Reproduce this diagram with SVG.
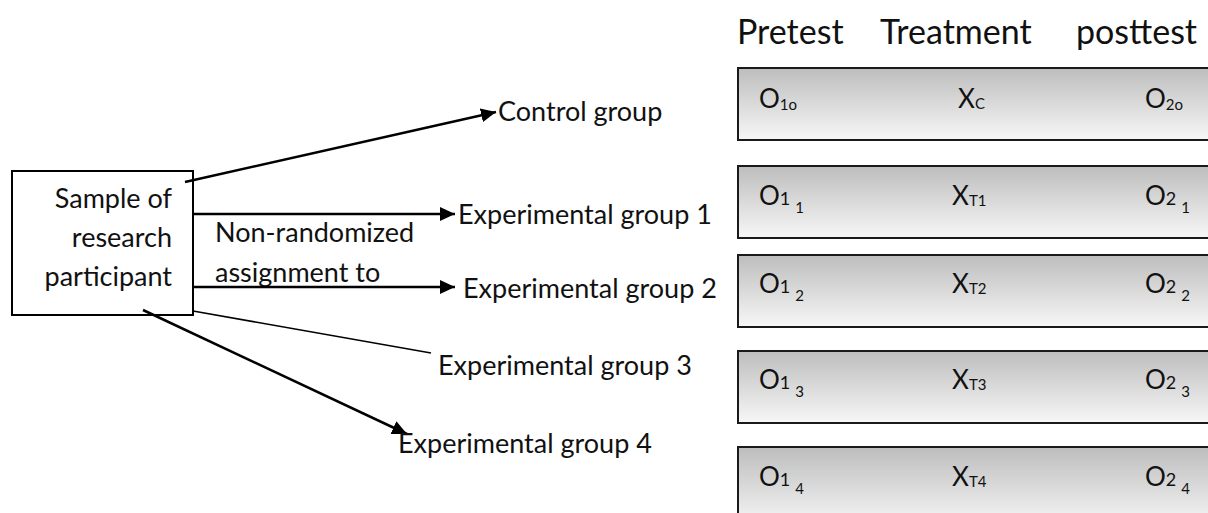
<svg xmlns="http://www.w3.org/2000/svg" width="1208" height="513" viewBox="0 0 1208 513">
<style>
text{font-family:Lato,"Liberation Sans",Arial,sans-serif;fill:#111}
.b{font-size:27px}
.h{font-size:34px}
.o{font-size:26px}
.m{font-size:18px}
.s{font-size:15px}
.row{fill:url(#g);stroke:#1a1a1a;stroke-width:2}
.ln{stroke:#000;stroke-width:2.5;fill:none}
.thin{stroke:#000;stroke-width:1.6;fill:none}
</style>
<defs>
<linearGradient id="g" x1="0" y1="0" x2="0" y2="1">
<stop offset="0" stop-color="#bdbdbd"/>
<stop offset="1" stop-color="#f7f7f7"/>
</linearGradient>
<marker id="ar" markerUnits="userSpaceOnUse" markerWidth="16" markerHeight="14" refX="15" refY="7" orient="auto">
<path d="M0,0 L15,7 L0,14 Z" fill="#000"/>
</marker>
</defs>
<rect width="1208" height="513" fill="#fff"/>

<g id="header">
<text class="h" x="737" y="44">Pretest</text>
<text class="h" x="880" y="44">Treatment</text>
<text class="h" x="1076" y="44">posttest</text>
</g>

<g id="sample">
<rect x="12" y="171" width="181" height="144" fill="#fff" stroke="#000" stroke-width="2"/>
<text class="b" x="172" y="208" text-anchor="end">Sample of</text>
<text class="b" x="172" y="247" text-anchor="end">research</text>
<text class="b" x="172" y="286" text-anchor="end">participant</text>
</g>

<g id="assign-label">
<text class="b" x="215" y="242">Non-randomized</text>
<text class="b" x="215" y="282">assignment to</text>
</g>

<g id="connectors">
<line class="ln" x1="185" y1="182" x2="496" y2="112" marker-end="url(#ar)"/>
<line class="ln" x1="193" y1="214" x2="455" y2="214" marker-end="url(#ar)"/>
<line class="ln" x1="193" y1="287" x2="455" y2="287" marker-end="url(#ar)"/>
<line class="thin" x1="193" y1="311" x2="431" y2="353"/>
<line class="ln" x1="143" y1="310" x2="407" y2="434" marker-end="url(#ar)"/>
</g>

<g id="control"><text class="b" x="498" y="121">Control group</text></g>
<g id="exp1"><text class="b" x="458" y="224">Experimental group 1</text></g>
<g id="exp2"><text class="b" x="463" y="298">Experimental group 2</text></g>
<g id="exp3"><text class="b" x="438" y="375">Experimental group 3</text></g>
<g id="exp4"><text class="b" x="398" y="453">Experimental group 4</text></g>

<g id="row-control">
<rect class="row" x="738" y="68" width="490" height="72"/>
<text class="o" x="759" y="108">O<tspan class="s" dy="2">1o</tspan></text>
<text class="o" x="958" y="108">X<tspan class="s" dy="1">C</tspan></text>
<text class="o" x="1145" y="108">O<tspan class="s" dy="2">2o</tspan></text>
</g>

<g id="row-1">
<rect class="row" x="738" y="166" width="490" height="72"/>
<text class="o" x="759" y="205">O<tspan class="m">1</tspan><tspan class="s" dx="5" dy="8">1</tspan></text>
<text class="o" x="952" y="205">X<tspan class="s" dy="1">T1</tspan></text>
<text class="o" x="1145" y="205">O<tspan class="m">2</tspan><tspan class="s" dx="5" dy="8">1</tspan></text>
</g>

<g id="row-2">
<rect class="row" x="738" y="255" width="490" height="72"/>
<text class="o" x="759" y="293">O<tspan class="m">1</tspan><tspan class="s" dx="5" dy="8">2</tspan></text>
<text class="o" x="952" y="293">X<tspan class="s" dy="1">T2</tspan></text>
<text class="o" x="1145" y="293">O<tspan class="m">2</tspan><tspan class="s" dx="5" dy="8">2</tspan></text>
</g>

<g id="row-3">
<rect class="row" x="738" y="351" width="490" height="72"/>
<text class="o" x="759" y="389">O<tspan class="m">1</tspan><tspan class="s" dx="5" dy="8">3</tspan></text>
<text class="o" x="952" y="389">X<tspan class="s" dy="1">T3</tspan></text>
<text class="o" x="1145" y="389">O<tspan class="m">2</tspan><tspan class="s" dx="5" dy="8">3</tspan></text>
</g>

<g id="row-4">
<rect class="row" x="738" y="447" width="490" height="80"/>
<text class="o" x="759" y="486">O<tspan class="m">1</tspan><tspan class="s" dx="5" dy="8">4</tspan></text>
<text class="o" x="952" y="486">X<tspan class="s" dy="1">T4</tspan></text>
<text class="o" x="1145" y="486">O<tspan class="m">2</tspan><tspan class="s" dx="5" dy="8">4</tspan></text>
</g>
</svg>
